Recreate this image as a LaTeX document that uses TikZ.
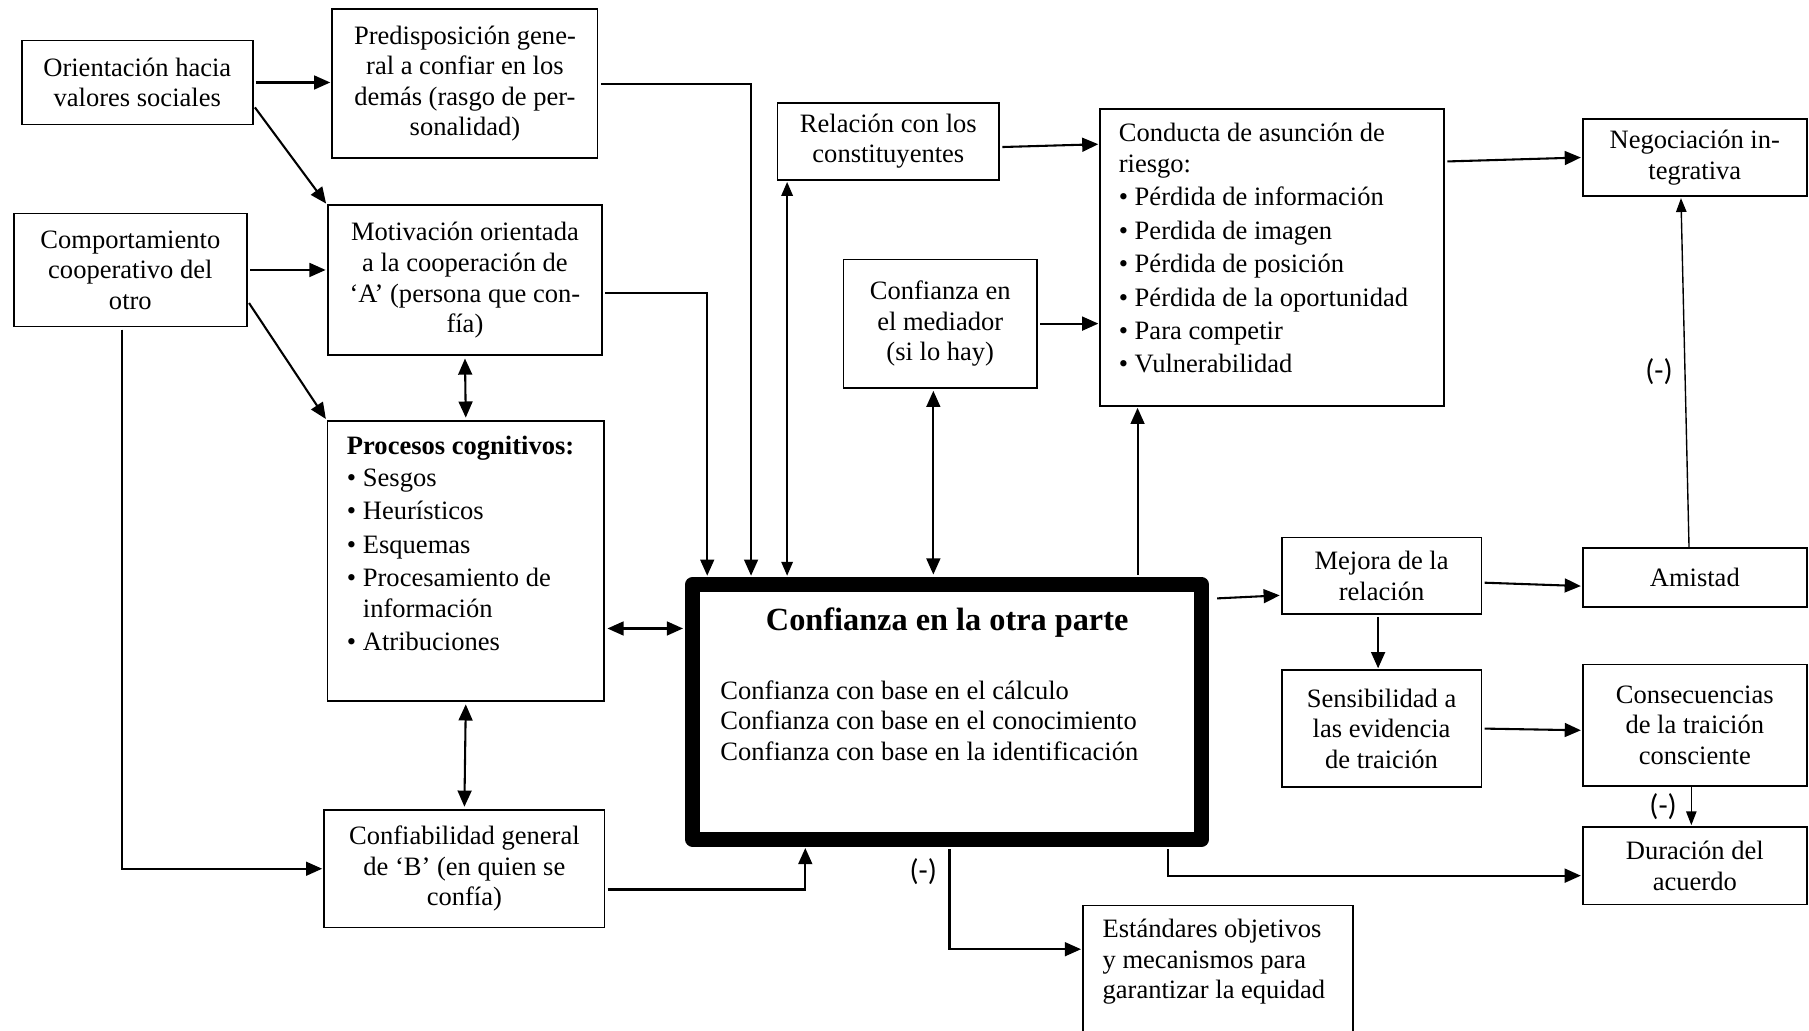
\documentclass[tikz,border=0pt]{standalone}
\usepackage{fontspec}
\setmainfont{Liberation Serif}
\newfontfamily\calibri{Carlito}
\usetikzlibrary{arrows.meta}

\tikzset{
  caja/.style={draw, line width=1.5pt, align=center, inner sep=0pt, font=\fontsize{23}{26.5}\selectfont},
  flecha/.style={line width=1.8pt, -{Triangle[length=14pt,width=12pt]}, shorten >=1pt, shorten <=2pt},
  doble/.style={line width=1.8pt, {Triangle[length=14pt,width=12pt]}-{Triangle[length=14pt,width=12pt]}, shorten >=2pt, shorten <=2pt},
  fina/.style={line width=1.2pt, -{Triangle[length=12pt,width=9pt]}, shorten >=1pt},
  dfina/.style={line width=1.2pt, {Triangle[length=12pt,width=10pt]}-{Triangle[length=12pt,width=10pt]}, shorten >=1pt, shorten <=1pt},
  menos/.style={font=\calibri\fontsize{26}{30}\selectfont, inner sep=0pt},
}

\begin{document}
\begin{tikzpicture}[x=1pt, y=-1pt]
	\useasboundingbox (0,0) rectangle (1568,893);

	% columna izquierda
	\node[caja, minimum width=200pt, minimum height=73pt] (orient) at (119,71.5) {Orientación hacia\\valores sociales};
	\node[caja, minimum width=202pt, minimum height=98pt] (comport) at (113,234) {Comportamiento\\cooperativo del\\otro};
	\node[caja, minimum width=230pt, minimum height=129pt] (predisp) at (403,72.5) {Predisposición gene-\\ral a confiar en los\\demás (rasgo de per-\\sonalidad)};
	\node[caja, minimum width=238pt, minimum height=130pt] (motiv) at (403,243) {Motivación orientada\\a la cooperación de\\‘A’ (persona que con-\\fía)};
	\node[caja, anchor=north west, inner xsep=17pt, inner ysep=13pt] (procesos) at (283,364)
	  {\parbox[c][217pt][t]{206pt}{\raggedright\textbf{Procesos cognitivos:}\\[1.5pt]
	   \textbullet\ Sesgos\\[2.5pt]
	   \textbullet\ Heurísticos\\[2.5pt]
	   \textbullet\ Esquemas\\[2.5pt]
	   \textbullet\ Procesamiento de\\
	   \hphantom{\textbullet\ }información\\[2.5pt]
	   \textbullet\ Atribuciones}};
	\node[caja, minimum width=243pt, minimum height=102pt] (confiab) at (402.5,753) {Confiabilidad general\\de ‘B’ (en quien se\\confía)};

	% centro
	\node[draw, line width=13pt, line join=round, inner xsep=24pt, inner ysep=20pt, font=\fontsize{23}{26.5}\selectfont] (main) at (821,617)
	  {\parbox[c][181pt][t]{393pt}{{\centering\fontsize{28}{33}\selectfont\bfseries Confianza en la otra parte\par}
	   \vspace*{33.5pt}\raggedright
	   Confianza con base en el cálculo\\
	   Confianza con base en el conocimiento\\
	   Confianza con base en la identificación}};
	\node[caja, minimum width=192pt, minimum height=67pt] (relacion) at (770,122.5) {Relación con los\\constituyentes};
	\node[caja, minimum width=168pt, minimum height=111pt] (mediador) at (815,280.5) {Confianza en\\el mediador\\(si lo hay)};
	\node[caja, anchor=north west, inner xsep=16pt, inner ysep=12pt] (conducta) at (953,94)
	  {\parbox[c][233pt][t]{266pt}{\raggedright Conducta de asunción de\\ riesgo:\\[2.5pt]
	   \textbullet\ Pérdida de información\\[2.5pt]
	   \textbullet\ Perdida de imagen\\[2.5pt]
	   \textbullet\ Pérdida de posición\\[2.5pt]
	   \textbullet\ Pérdida de la oportunidad\\[2.5pt]
	   \textbullet\ Para competir\\[2.5pt]
	   \textbullet\ Vulnerabilidad}};
	\node[caja, anchor=north west, inner xsep=17pt, inner ysep=12pt] (estandar) at (938,784)
	  {\parbox[c][96pt][t]{200pt}{\raggedright Estándares objetivos\\ y mecanismos para\\ garantizar la equidad}};

	% columna derecha
	\node[caja, minimum width=173pt, minimum height=66pt] (mejora) at (1197.5,499) {Mejora de la\\relación};
	\node[caja, minimum width=173pt, minimum height=101pt] (sensib) at (1197.5,631.5) {Sensibilidad a\\las evidencia\\de traición};
	\node[caja, minimum width=194pt, minimum height=67pt] (negoc) at (1469,136.5) {Negociación in-\\tegrativa};
	\node[caja, minimum width=194pt, minimum height=51pt] (amistad) at (1469,500.5) {Amistad};
	\node[caja, minimum width=194pt, minimum height=105pt] (consec) at (1469,628.5) {Consecuencias\\de la traición\\consciente};
	\node[caja, minimum width=194pt, minimum height=67pt] (duracion) at (1469,750.5) {Duración del\\acuerdo};

	\coordinate (pc) at ([yshift=-58.5pt]procesos.east);
	\coordinate (rc) at ([xshift=9pt]relacion.south west);
	\coordinate (mc) at ([xshift=-6pt]mediador.south);
	\coordinate (cc) at ([xshift=33pt]conducta.south west);

	% flechas de entrada
	\draw[flecha] (orient.east) -- (orient.east -| predisp.west);
	\draw[flecha] ([yshift=-20pt]orient.east) -- (motiv.north west);
	\draw[flecha] (comport.east) -- (comport.east -| motiv.west);
	\draw[flecha] ([yshift=-27pt]comport.east) -- (procesos.north west);
	\draw[flecha] ([xshift=-7pt]comport.south) |- (confiab.west);
	\draw[flecha] (predisp.east) -| ([xshift=57pt]main.north west);
	\draw[flecha] ([yshift=-11pt]motiv.east) -| ([xshift=19pt]main.north west);
	\draw[doble] (motiv.south) -- (procesos.north);
	\draw[doble] (pc) -- (pc -| main.west);
	\draw[doble] (procesos.south) -- (confiab.north);
	\draw[flecha] ([yshift=-18pt]confiab.east) -| ([xshift=104pt]main.south west);
	\draw[dfina] (rc) -- (rc |- main.north);
	\draw[doble] (mc) -- (mc |- main.north);

	% flechas de salida
	\draw[flecha] (cc |- main.north) -- (cc);
	\draw[flecha] ([yshift=-5pt]relacion.east) -- ([yshift=-31pt]conducta.north west);
	\draw[flecha] (mediador.east) -- (mediador.east -| conducta.west);
	\draw[flecha] ([yshift=-46pt]conducta.north east) -- (negoc.west);
	\draw[fina] ([xshift=-5pt]amistad.north) -- node[menos, left=10pt] (neg1) {(-)} ([xshift=-12pt]negoc.south);
	\draw[flecha, shorten <=7pt] ([yshift=-19pt]main.north east) -- ([yshift=-17pt]mejora.west);
	\draw[flecha] ([yshift=-6pt]mejora.east) -- ([yshift=-7.5pt]amistad.west);
	\draw[flecha] ([xshift=-3pt]mejora.south) -- ([xshift=-3pt]sensib.north);
	\draw[flecha] (sensib.east) -- ([yshift=-4.5pt]consec.west);
	\draw[fina] ([xshift=-3pt]consec.south) -- node[menos, left=12pt] (neg2) {(-)} ([xshift=-3pt]duracion.north);
	\draw[flecha] ([xshift=-36pt]main.south east) |- ([yshift=-8.5pt]duracion.west);
	\draw[flecha] ([xshift=2pt]main.south) |- node[menos, pos=0.12, left=10pt] (neg3) {(-)} ([yshift=22pt]estandar.west);

\end{tikzpicture}
\end{document}
